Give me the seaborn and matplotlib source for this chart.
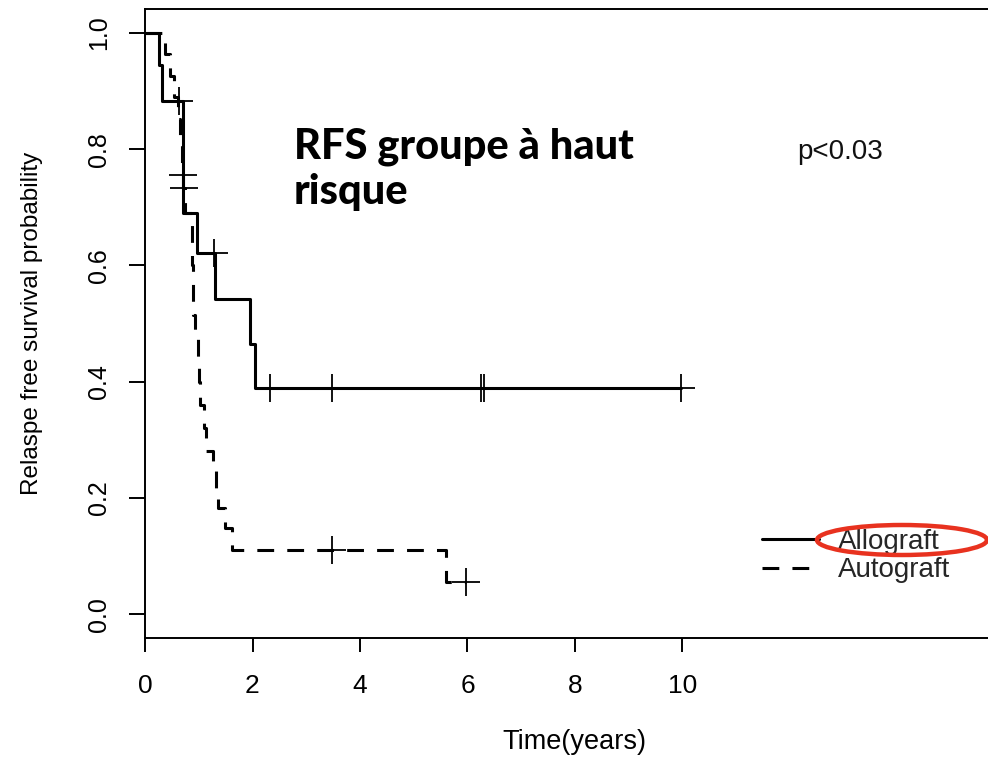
import numpy as np
import pandas as pd
import matplotlib
matplotlib.use("Agg")
import matplotlib.pyplot as plt
from matplotlib.lines import Line2D
from matplotlib.patches import Ellipse
import seaborn as sns

# ---------------- data ----------------
groups = ["Allograft", "Autograft"]

allo_time = [0, 0.26, 0.32, 0.70, 0.97, 1.31, 1.95, 2.05]
allo_surv = [1.0, 0.944, 0.883, 0.69, 0.621, 0.542, 0.465, 0.389]
allo_end = 9.97
allo_censor = [0.63, 1.29, 2.33, 3.48, 6.25, 6.30, 9.97]

auto_time = [0, 0.37, 0.46, 0.54, 0.62, 0.65, 0.68, 0.705, 0.74, 0.87, 0.88,
             0.89, 0.93, 0.99, 1.00, 1.02, 1.10, 1.13, 1.27, 1.33, 1.36,
             1.49, 1.62, 5.60]
auto_surv = [1.0, 0.963, 0.926, 0.889, 0.852, 0.815, 0.756, 0.733, 0.69,
             0.655, 0.60, 0.515, 0.475, 0.437, 0.40, 0.36, 0.32, 0.28, 0.25,
             0.215, 0.182, 0.148, 0.111, 0.056]
auto_end = 5.97
auto_censor = [0.70, 0.72, 3.48, 5.97]

x_ticks = [0, 2, 4, 6, 8, 10]
y_ticks = [0.0, 0.2, 0.4, 0.6, 0.8, 1.0]
y_tick_labels = ["0.0", "0.2", "0.4", "0.6", "0.8", "1.0"]

title_text = "RFS groupe à haut\nrisque"
p_text = "p<0.03"
x_label = "Time(years)"
y_label = "Relaspe free survival probability"

# ---------------- build tables ----------------
def curve_frame(t, s, end, name):
    tt = list(t) + [end]
    ss = list(s) + [s[-1]]
    return pd.DataFrame({"time": tt, "surv": ss, "group": name})

def censor_frame(t, s, ct, name):
    t = np.asarray(t)
    s = np.asarray(s)
    idx = np.searchsorted(t, np.asarray(ct), side="right") - 1
    return pd.DataFrame({"time": ct, "surv": s[idx], "group": name})

curves = pd.concat([curve_frame(allo_time, allo_surv, allo_end, groups[0]),
                    curve_frame(auto_time, auto_surv, auto_end, groups[1])],
                   ignore_index=True)
cens = pd.concat([censor_frame(allo_time, allo_surv, allo_censor, groups[0]),
                  censor_frame(auto_time, auto_surv, auto_censor, groups[1])],
                 ignore_index=True)

# ---------------- figure ----------------
sns.set_theme(style="white")
plt.rcParams["font.family"] = ["Liberation Sans", "DejaVu Sans"]

W, H = 988, 758
fig = plt.figure(figsize=(W / 100, H / 100), dpi=100)
ax = fig.add_axes([145 / W, 1 - 638 / H, (998 - 145) / W, 629 / H])

lw = 2.2
dash = (5.5, 4.3)
sns.lineplot(data=curves, x="time", y="surv", hue="group", style="group",
             palette={groups[0]: "black", groups[1]: "black"},
             dashes={groups[0]: "", groups[1]: dash},
             estimator=None, sort=False, drawstyle="steps-post",
             linewidth=lw, legend=False, ax=ax)
sns.scatterplot(data=cens, x="time", y="surv", marker="+", s=380,
                color="black", linewidth=1.3, legend=False, ax=ax, zorder=3)

ax.set_xlim(0, (998 - 145) / 53.75)
ax.set_ylim(-0.041, 1.041)
ax.set_xticks(x_ticks)
ax.set_xticklabels([str(v) for v in x_ticks])
ax.set_yticks(y_ticks)
ax.set_yticklabels(y_tick_labels, rotation=90, va="center")

for side in ["left", "bottom", "top"]:
    ax.spines[side].set_visible(True)
    ax.spines[side].set_color("black")
    ax.spines[side].set_linewidth(1.4)
ax.spines["right"].set_visible(False)

ax.tick_params(axis="x", direction="out", length=10, width=1.4,
               labelsize=19, pad=16, colors="black", bottom=True)
ax.tick_params(axis="y", direction="out", length=11.5, width=1.4,
               labelsize=18, pad=13, colors="black", left=True)
ax.grid(False)

ax.set_xlabel(x_label, fontsize=19.5, color="black")
ax.set_ylabel(y_label, fontsize=17.5, color="black")
ax.xaxis.set_label_coords((574 - 145) / 853, (638 - 729) / 629)
ax.yaxis.set_label_coords((43 - 145) / 853, 0.5)

# annotations
fig.text(294 / W, 1 - 127 / H, title_text, fontsize=30, fontweight=900,
         family=["Lato", "DejaVu Sans"], va="top", ha="left",
         linespacing=1.25, color="black")
fig.text(797 / W, 1 - 152 / H, p_text, fontsize=20, va="center", ha="left",
         color="#111111")

# legend
handles = [Line2D([], [], color="black", lw=lw, linestyle="-"),
           Line2D([], [], color="black", lw=lw, linestyle=(0, dash))]
leg = ax.legend(handles, groups, loc="center left",
                bbox_to_anchor=(762 / W, 1 - 556 / H),
                bbox_transform=fig.transFigure, frameon=False,
                fontsize=20, handlelength=2.05, handletextpad=0.7,
                labelspacing=0.1, borderpad=0, borderaxespad=0)

# red highlight ellipse around "Allograft"
ell = Ellipse((902 / W, 1 - 540 / H), 170 / W, 30 / H,
              transform=fig.transFigure, fill=False,
              edgecolor="#e8321f", linewidth=3.2, zorder=10)
fig.patches.append(ell)

fig.savefig("out.png", dpi=100)
